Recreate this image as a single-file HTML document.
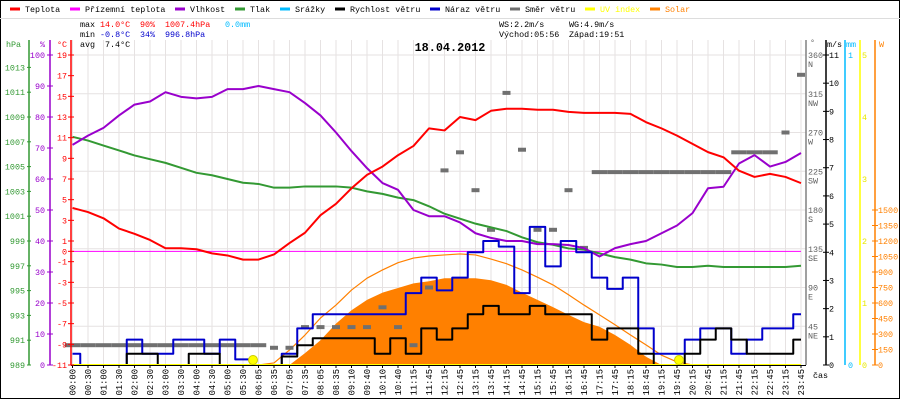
<!DOCTYPE html>
<html><head><meta charset="utf-8">
<style>
html,body{margin:0;padding:0;background:#fff;}
#wrap{position:relative;width:900px;height:400px;overflow:hidden;font-family:"Liberation Mono",monospace;}
svg text{font-family:"Liberation Mono",monospace;}
</style></head>
<body>
<div id="wrap">
<svg id="chart" width="900" height="400" viewBox="0 0 900 400" xmlns="http://www.w3.org/2000/svg"></svg>
</div>
<script>
const timeLabels=["00:00","00:30","01:00","01:30","02:00","02:30","03:00","03:30","04:00","04:30","05:00","05:30","06:05","06:35","07:05","07:35","08:05","08:35","09:10","09:40","10:10","10:40","11:15","11:45","12:15","12:45","13:15","13:45","14:15","14:45","15:15","15:45","16:15","16:45","17:15","17:45","18:15","18:45","19:15","19:45","20:15","20:45","21:15","21:45","22:15","22:45","23:15","23:45"];
const temperature=[4.2,3.8,3.2,2.2,1.7,1.1,0.3,0.3,0.2,-0.2,-0.4,-0.8,-0.8,-0.3,0.8,1.8,3.5,4.6,6.1,7.4,8.2,9.3,10.2,11.9,11.7,13.0,12.7,13.6,13.8,13.8,13.7,13.7,13.5,13.4,13.4,13.4,13.3,12.5,11.9,11.2,10.4,9.6,9.1,7.8,7.2,7.5,7.2,6.6];
const groundTemp=[0,0,0,0,0,0,0,0,0,0,0,0,0,0,0,0,0,0,0,0,0,0,0,0,0,0,0,0,0,0,0,0,0,0,0,0,0,0,0,0,0,0,0,0,0,0,0,0];
const humidity=[71,74,76.5,80.5,84,85,88,86.5,86,86.5,89,89,90,89,88,84.5,80.5,75,69,63.5,58.7,56.5,50,48,48,46,42.5,41,40,40,39,39,38.7,37.7,35,37.7,39,40,42.5,45,49,57,57.5,65,67.7,64,65.5,68.4];
const pressure=[1007.4,1007.1,1006.7,1006.3,1005.9,1005.6,1005.3,1004.9,1004.5,1004.3,1004.0,1003.7,1003.6,1003.3,1003.3,1003.4,1003.4,1003.4,1003.3,1003.0,1002.8,1002.5,1002.3,1001.8,1001.2,1000.8,1000.4,1000.1,999.8,999.3,998.9,998.7,998.4,998.3,998.0,997.7,997.5,997.2,997.1,996.9,996.9,997.0,996.9,996.9,996.9,996.9,996.9,997.0];
const windSpeed=[0,0,0,0,0.4,0.4,0,0,0.4,0.4,0,0,0,0,0.3,0.7,0.95,0.95,0.95,0.95,0.4,0.95,0.4,1.3,0.9,1.3,1.8,2.1,1.8,1.8,2.1,1.8,1.8,1.8,0.9,1.3,1.3,0.4,0,0,0.4,0.9,1.3,0.9,0.4,0.4,0.4,0.9];
const windGust=[0.4,0,0,0,0.9,0.4,0.4,0.9,0.9,0.4,0.9,0.2,0,0,0.4,1.3,1.8,1.8,1.8,1.8,1.8,1.8,2.55,3.1,2.65,3.1,4.0,4.4,4.2,2.55,4.9,3.5,4.4,4.0,3.1,2.7,3.1,1.3,0.4,0.4,0.9,1.3,1.3,0.4,0.9,1.3,1.3,1.8];
const windDir=[23,23,23,23,23,23,23,23,23,23,23,23,23,20,20,44,44,44,44,44,67,44,23,90,226,247,203,157,316,250,157,157,203,136,224,224,224,224,224,224,224,224,224,247,247,247,270,337];
const solar=[0,0,0,0,0,0,0,0,0,0,0,0,0,0,0,115,240,400,530,630,700,745,790,810,840,840,840,820,775,700,630,560,485,415,370,290,195,80,0,0,0,0,0,0,0,0,0,0];
const solarTheory=[0,0,0,0,0,0,0,0,0,0,0,0,0,20,145,290,455,580,725,840,920,990,1035,1055,1065,1075,1065,1025,980,920,850,775,680,580,485,390,290,195,95,30,0,0,0,0,0,0,0,0];
const uvIndex=[0,0,0,0,0,0,0,0,0,0,0,0,0,0,0,0,0,0,0,0,0,0,0,0,0,0,0,0,0,0,0,0,0,0,0,0,0,0,0,0,0,0,0,0,0,0,0,0];

const NS="http://www.w3.org/2000/svg";
const svg=document.getElementById('chart');
const X0=72.5,DX=15.5,YT=55,YB=365,PL=71,PR=806;
const FS=8.4;
const xs=i=>X0+i*DX;
const yT=v=>YB-(v+11)*(YB-YT)/30;
const yH=v=>YB-v*(YB-YT)/100;
const yP=v=>YB-(v-989)*(YB-YT)/25;
const yW=v=>YB-v*(YB-YT)/11;
const yD=v=>YB-v*(YB-YT)/360;
const yS=v=>YB-v*(YB-YT)/3000;
const yU=v=>YB-v*(YB-YT)/5;

function mk(tag,attrs){const e=document.createElementNS(NS,tag);for(const k in attrs)e.setAttribute(k,attrs[k]);svg.appendChild(e);return e;}
function txt(x,y,s,fill,size,anchor,weight){const t=mk('text',{x:x,y:y,fill:fill,'font-size':size||FS,'text-anchor':anchor||'start','font-weight':weight||'normal'});t.textContent=s;return t;}

let el=mk('rect',{x:0.5,y:0.5,width:899,height:398,fill:'none',stroke:'#000'});


el=mk('line',{x1:0,y1:18.5,x2:900,y2:18.5,stroke:'#ddd'});



for(let i=0;i<timeLabels.length;i++){
  el=mk('line',{x1:xs(i),y1:40,x2:xs(i),y2:YB,stroke:'#e6e2e2'});
  
  
}
for(let d=45;d<=360;d+=45){
  el=mk('line',{x1:PL,y1:yD(d),x2:PR,y2:yD(d),stroke:'#e6e2e2'});
  
  
}

let sp='M'+xs(0)+','+YB;
for(let i=0;i<solar.length;i++){sp+=' L'+xs(i)+','+yS(solar[i]);}
sp+=' L'+xs(solar.length-1)+','+YB+' Z';
el=mk('path',{d:sp,fill:'#ff8000',stroke:'none'});



function line(arr,yf,color,w,step){
  let d='';
  for(let i=0;i<arr.length;i++){
    const x=xs(i),y=yf(arr[i]);
    if(i===0)d='M'+x+','+y;
    else if(step)d+=' L'+(x-DX/2)+','+yf(arr[i-1])+' L'+(x-DX/2)+','+y+' L'+x+','+y;
    else d+=' L'+x+','+y;
  }
  return mk('path',{d:d,fill:'none',stroke:color,'stroke-width':w,'stroke-linejoin':'round'});
}
el=line(solarTheory,yS,'#ff8000',1.2,false);



for(let i=0;i<windDir.length;i++){
  const w=(i<13||(i>=34&&i<=45))?DX:8;
  el=mk('rect',{x:xs(i)-w/2,y:yD(windDir[i])-2,width:w,height:4,fill:'#707070'});
  
  
}
el=line(groundTemp,yT,'#ff00ff',1,false);


el=line(pressure,yP,'#339933',2,false);


el=line(humidity,yH,'#9900cc',2,false);


el=line(temperature,yT,'#ff0000',2,false);


el=line(windGust,yW,'#0000cc',2,true);


el=line(windSpeed,yW,'#000000',2,true);


el=line(uvIndex,yU,'#ffff00',2,false);


el=mk('circle',{cx:253,cy:360,r:4.5,fill:'#ffff00',stroke:'#cccc00'});


el=mk('circle',{cx:679,cy:360,r:4.5,fill:'#ffff00',stroke:'#cccc00'});



el=mk('line',{x1:PL,y1:YB+0.5,x2:PR,y2:YB+0.5,stroke:'#000'});


for(let i=0;i<timeLabels.length;i++){
  el=mk('line',{x1:xs(i),y1:YB,x2:xs(i),y2:YB+3,stroke:'#000'});
  
  
  const t=mk('text',{x:0,y:0,fill:'#000','font-size':8.8,'text-anchor':'end',transform:'translate('+(xs(i)+3)+','+(YB+4)+') rotate(-90)'});
  t.textContent=timeLabels[i];
  
  
}
el=txt(813,378,'čas','#000');



function axis(x,color){return mk('line',{x1:x,y1:40,x2:x,y2:YB,stroke:color,'stroke-width':1.5});}
el=axis(29,'#339933');


el=axis(50,'#9900cc');


el=axis(71,'#ff0000');


for(let p=989;p<=1013;p+=2){
  el=txt(25,yP(p)+3,String(p),'#339933',FS,'end');
  
  
  mk('line',{x1:27,y1:yP(p),x2:31,y2:yP(p),stroke:'#339933'});
}
for(let h=0;h<=100;h+=10){
  el=txt(45,yH(h)+3,String(h),'#9900cc',FS,'end');
  
  
  mk('line',{x1:47,y1:yH(h),x2:53,y2:yH(h),stroke:'#9900cc'});
}
const tempTicks=[19,17,15,13,11,9,7,5,3,1,0,-1,-3,-5,-7,-9,-11];
for(const t of tempTicks){
  el=txt(67,yT(t)+3,String(t),'#ff0000',FS,'end');
  
  
  mk('line',{x1:68,y1:yT(t),x2:74,y2:yT(t),stroke:'#ff0000'});
}
el=txt(6,47,'hPa','#339933');


el=txt(40,47,'%','#9900cc');


el=txt(57,47,'°C','#ff0000');



el=axis(806,'#808080');


el=axis(826,'#000');


el=axis(845,'#00bbff');


el=axis(860,'#ffff00');


el=axis(875,'#ff8000');


const dirNames={45:'NE',90:'E',135:'SE',180:'S',225:'SW',270:'W',315:'NW',360:'N'};
for(let d=45;d<=360;d+=45){
  el=txt(808,yD(d)+3,String(d),'#606060');
  
  
  el=txt(808,yD(d)+12,dirNames[d],'#606060');
  
  
}
for(let v=0;v<=11;v++){
  el=txt(829,yW(v)+3,String(v),'#000');
  
  
  mk('line',{x1:823,y1:yW(v),x2:829,y2:yW(v),stroke:'#000'});
}
el=txt(848,58,'1','#00bbff');


el=txt(848,368,'0','#00bbff');


for(let u=0;u<=5;u++){
  el=txt(862,yU(u)+3,String(u),'#e8e800');
  
  
}
for(let w=0;w<=1500;w+=150){
  el=txt(878,yS(w)+3,String(w),'#ff8000');
  
  
  mk('line',{x1:872,y1:yS(w),x2:878,y2:yS(w),stroke:'#ff8000'});
}
el=txt(810,45,'°','#606060');


el=txt(827,47,'m/s','#000');


el=txt(846,47,'mm','#00bbff');


el=txt(879,47,'W','#ff8000');



const legNames=['Teplota','Přízemní teplota','Vlhkost','Tlak','Srážky','Rychlost větru','Náraz větru','Směr větru','UV index','Solar'];
const legColors=['#ff0000','#ff00ff','#9900cc','#339933','#00bbff','#000000','#0000cc','#707070','#ffff00','#ff8000'];
const legX=[10,70,175,235,280,335,430,510,585,650];
for(let i=0;i<legNames.length;i++){
  el=mk('line',{x1:legX[i],y1:9,x2:legX[i]+10,y2:9,stroke:legColors[i],'stroke-width':3});
  
  
  el=txt(legX[i]+15,12,legNames[i],i===8?'#ffff00':(i===9?'#ff8000':'#000'));
  
  
}

function st(x,y,s,c){return txt(x,y,s,c);}
el=st(80,27,'max','#000');
el=st(100,27,'14.0°C','#ff0000');
el=st(140,27,'90%','#ff0000');
el=st(165,27,'1007.4hPa','#ff0000');
el=st(225,27,'0.0mm','#00bbff');
el=st(80,37,'min','#000');
el=st(100,37,'-0.8°C','#0000cc');
el=st(140,37,'34%','#0000cc');
el=st(165,37,'996.8hPa','#0000cc');
el=st(80,47,'avg','#000');
el=st(105,47,'7.4°C','#000');
el=st(499,27,'WS:2.2m/s','#000');
el=st(569,27,'WG:4.9m/s','#000');
el=st(499,37,'Východ:05:56','#000');
el=st(569,37,'Západ:19:51','#000');
el=txt(450,51,'18.04.2012','#000',11.8,'middle','bold');


</script>
</body></html>
